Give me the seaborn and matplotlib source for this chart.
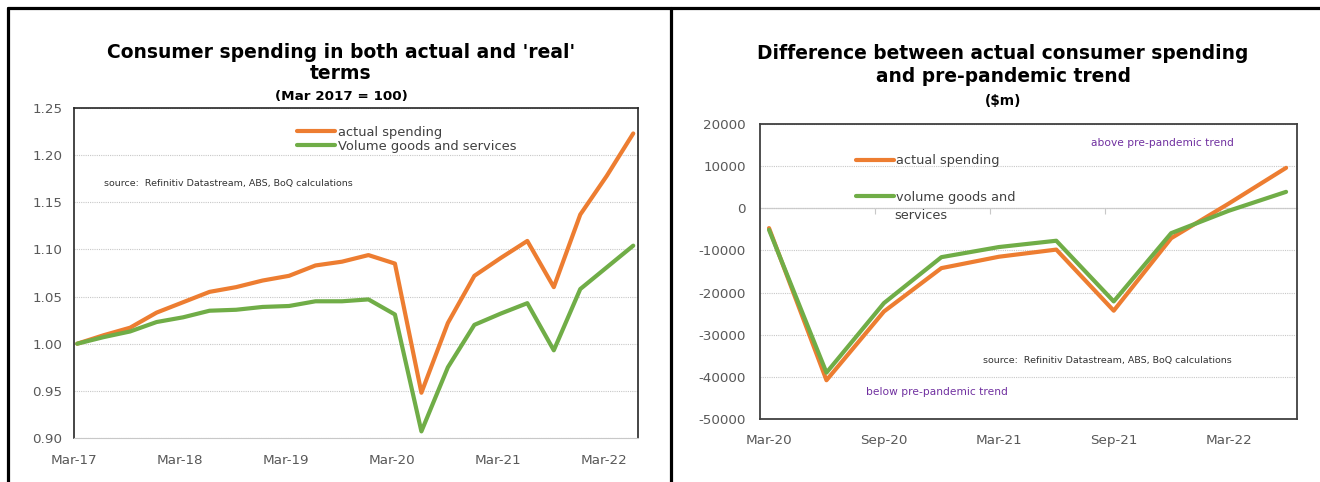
import matplotlib
matplotlib.use("Agg")
import matplotlib.pyplot as plt
import pandas as pd
import seaborn as sns
from matplotlib.lines import Line2D

# ---- data: consumer spending index (Mar 2017 = 1.00), quarterly ----
quarters = ["Mar-17", "Jun-17", "Sep-17", "Dec-17", "Mar-18", "Jun-18", "Sep-18", "Dec-18",
            "Mar-19", "Jun-19", "Sep-19", "Dec-19", "Mar-20", "Jun-20", "Sep-20", "Dec-20",
            "Mar-21", "Jun-21", "Sep-21", "Dec-21", "Mar-22", "Jun-22"]
actual_spending = [1.000, 1.009, 1.017, 1.033, 1.044, 1.055, 1.060, 1.067,
                   1.072, 1.083, 1.087, 1.094, 1.085, 0.948, 1.022, 1.072,
                   1.091, 1.109, 1.060, 1.137, 1.178, 1.223]
volume_goods_services = [1.000, 1.007, 1.013, 1.023, 1.028, 1.035, 1.036, 1.039,
                         1.040, 1.045, 1.045, 1.047, 1.031, 0.907, 0.975, 1.020,
                         1.032, 1.043, 0.993, 1.058, 1.081, 1.104]
left_tick_labels = ["Mar-17", "Mar-18", "Mar-19", "Mar-20", "Mar-21", "Mar-22"]
left_yticks = [0.90, 0.95, 1.00, 1.05, 1.10, 1.15, 1.20, 1.25]

# ---- data: gap to pre-pandemic trend ($m), quarterly ----
gap_quarters = ["Mar-20", "Jun-20", "Sep-20", "Dec-20", "Mar-21",
                "Jun-21", "Sep-21", "Dec-21", "Mar-22", "Jun-22"]
gap_actual = [-4700, -40800, -24500, -14200, -11500, -9800, -24300, -7100, 1100, 9600]
gap_volume = [-5100, -39000, -22500, -11600, -9200, -7700, -22100, -5900, -600, 3900]
right_tick_labels = ["Mar-20", "Sep-20", "Mar-21", "Sep-21", "Mar-22"]
right_yticks = [-50000, -40000, -30000, -20000, -10000, 0, 10000, 20000]

series_names = ["actual spending", "Volume goods and services"]
gap_series_names = ["actual spending", "volume goods and services"]

ORANGE = "#ED7D31"
GREEN = "#70AD47"
TICK_GREY = "#595959"
GRID_GREY = "#C8C8C8"
PURPLE = "#7030A0"

sns.set_style("white")
plt.rcParams["font.family"] = ["DejaVu Sans"]

W, H = 1320, 482
fig = plt.figure(figsize=(W / 100, H / 100), dpi=100)


def px_box(x0, y0, x1, y1):
    return [x0 / W, 1 - y1 / H, (x1 - x0) / W, (y1 - y0) / H]


def long_frame(labels, a, b, names):
    pos = list(range(len(labels)))
    return pd.DataFrame({
        "pos": pos + pos,
        "value": list(a) + list(b),
        "series": [names[0]] * len(a) + [names[1]] * len(b),
    })


line_kw = dict(linewidth=3.0, solid_joinstyle="round", solid_capstyle="round")

# ================= left panel =================
axL = fig.add_axes(px_box(74, 108, 638, 438))
dfL = long_frame(quarters, actual_spending, volume_goods_services, series_names)
sns.lineplot(data=dfL, x="pos", y="value", hue="series", palette=[ORANGE, GREEN],
             legend=False, ax=axL, **line_kw)
axL.set_xlim(-0.12, 21.18)
axL.set_ylim(left_yticks[0], left_yticks[-1])
axL.set_yticks(left_yticks)
axL.set_yticklabels([f"{v:.2f}" for v in left_yticks])
lpos = [quarters.index(q) - 0.12 for q in left_tick_labels]
axL.set_xticks(lpos)
axL.set_xticklabels(left_tick_labels)
axL.set_xlabel("")
axL.set_ylabel("")
axL.grid(axis="y", color=GRID_GREY, linestyle=(0, (1, 1)), linewidth=0.8)
axL.tick_params(axis="y", length=0, pad=8.5, labelsize=9.7, labelcolor=TICK_GREY)
axL.tick_params(axis="x", direction="out", length=3.6, width=0.8, color=GRID_GREY,
                pad=8.0, labelsize=9.7, labelcolor=TICK_GREY)
for side in ["left", "top", "right"]:
    axL.spines[side].set_color("#262626")
    axL.spines[side].set_linewidth(1.2)
axL.spines["bottom"].set_color(GRID_GREY)
axL.spines["bottom"].set_linewidth(0.8)

legL = axL.legend(axL.lines[:2], series_names, loc="upper left",
                  bbox_to_anchor=(0.395, 0.946), frameon=False, borderpad=0,
                  borderaxespad=0, handlelength=2.9, handletextpad=0.25,
                  labelspacing=0.08, fontsize=9.4, labelcolor="#404040")
axL.text(0.053, 0.77, "source:  Refinitiv Datastream, ABS, BoQ calculations",
         transform=axL.transAxes, fontsize=6.8, color="#333333", va="center")

# ================= right panel =================
axR = fig.add_axes(px_box(760, 124, 1297, 419))
dfR = long_frame(gap_quarters, gap_actual, gap_volume, gap_series_names)
sns.lineplot(data=dfR, x="pos", y="value", hue="series", palette=[ORANGE, GREEN],
             legend=False, ax=axR, **line_kw)
axR.set_xlim(-0.157, 9.19)
axR.set_ylim(right_yticks[0], right_yticks[-1])
axR.set_yticks(right_yticks)
axR.set_yticklabels([f"{v:d}" for v in right_yticks])
rpos = [gap_quarters.index(q) for q in right_tick_labels]
axR.set_xticks(rpos)
axR.set_xticklabels(right_tick_labels)
axR.set_xlabel("")
axR.set_ylabel("")
axR.grid(axis="y", color=GRID_GREY, linestyle=(0, (1, 1)), linewidth=0.8)
axR.tick_params(axis="y", length=0, pad=10, labelsize=9.7, labelcolor=TICK_GREY)
axR.tick_params(axis="x", length=0, pad=10.5, labelsize=9.7, labelcolor=TICK_GREY)
for side in axR.spines:
    axR.spines[side].set_color("#404040")
    axR.spines[side].set_linewidth(1.3)

# horizontal category axis crossing at zero, with small tick marks
zero_frac = (0 - right_yticks[0]) / (right_yticks[-1] - right_yticks[0])
sec = axR.secondary_xaxis(zero_frac)
sec.set_xticks([p - 0.15 for p in rpos[1:]])
sec.set_xticklabels([])
sec.tick_params(axis="x", direction="in", length=4, width=0.8, color=GRID_GREY)
for side in ["top", "bottom"]:
    sec.spines[side].set_color("#D0D0D0")
    sec.spines[side].set_linewidth(0.9)

legR = axR.legend(axR.lines[:2], [gap_series_names[0], "volume goods and"],
                  loc="upper left", bbox_to_anchor=(0.179, 0.897), frameon=False,
                  borderpad=0, borderaxespad=0, handlelength=2.9, handletextpad=0.15,
                  labelspacing=1.8, fontsize=9.3, labelcolor="#404040")
axR.text(0.251, 0.69, "services", transform=axR.transAxes, fontsize=9.3,
         color="#404040", va="center")
axR.text(0.415, 0.197, "source:  Refinitiv Datastream, ABS, BoQ calculations",
         transform=axR.transAxes, fontsize=6.8, color="#333333", va="center")
axR.text(0.197, 0.092, "below pre-pandemic trend", transform=axR.transAxes,
         fontsize=7.7, color=PURPLE, va="center")
axR.text(0.616, 0.936, "above pre-pandemic trend", transform=axR.transAxes,
         fontsize=7.7, color=PURPLE, va="center")

# ================= titles =================
def title_block(cx, lines, baselines, sizes):
    for txt, yb, fs in zip(lines, baselines, sizes):
        fig.text(cx / W, 1 - yb / H, txt, ha="center", va="baseline",
                 fontsize=fs, fontweight="bold", color="black")


title_block(341, ["Consumer spending in both actual and 'real'", "terms", "(Mar 2017 = 100)"],
            [58, 79, 100], [13.5, 13.5, 9.7])
title_block(1003, ["Difference between actual consumer spending", "and pre-pandemic trend", "($m)"],
            [59, 82, 105], [13.4, 13.4, 9.9])

# ================= panel frame =================
frame_kw = dict(transform=fig.transFigure, color="black", linewidth=2.3)
fig.add_artist(Line2D([8 / W, 1], [1 - 8 / H, 1 - 8 / H], **frame_kw))
fig.add_artist(Line2D([8 / W, 8 / W], [0, 1 - 8 / H], **frame_kw))
fig.add_artist(Line2D([671 / W, 671 / W], [0, 1 - 8 / H], **frame_kw))

fig.savefig("out.png", dpi=100)
